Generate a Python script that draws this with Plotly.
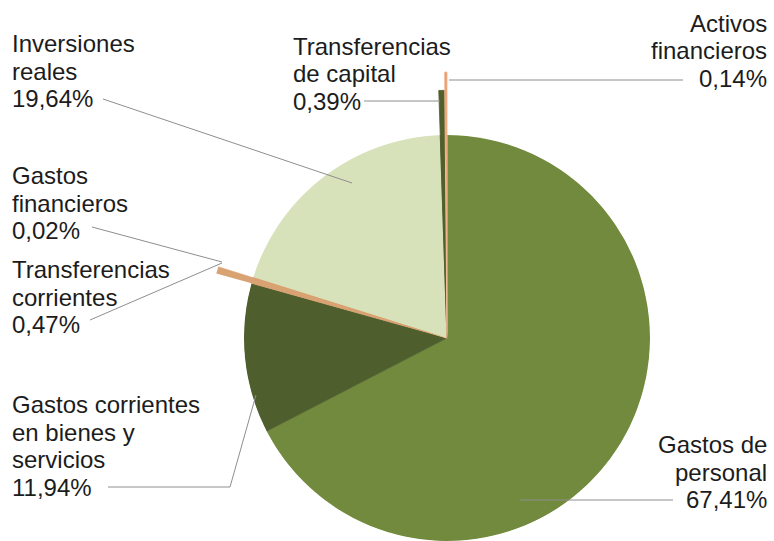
import math
import plotly.graph_objects as go

# ---------------- data ----------------
categories = [
    "Gastos de personal",
    "Gastos corrientes en bienes y servicios",
    "Transferencias corrientes",
    "Gastos financieros",
    "Inversiones reales",
    "Transferencias de capital",
    "Activos financieros",
]
values = [67.41, 11.94, 0.47, 0.02, 19.64, 0.39, 0.14]
label_lines = [
    ["Gastos de", "personal"],
    ["Gastos corrientes", "en bienes y", "servicios"],
    ["Transferencias", "corrientes"],
    ["Gastos", "financieros"],
    ["Inversiones", "reales"],
    ["Transferencias", "de capital"],
    ["Activos", "financieros"],
]

# ---------------- style ----------------
colors = ["#728A3D", "#4E5E2D", "#D9A272", "#E08D5C", "#D8E2BA", "#505F2C", "#E8925F"]
edge_colors = ["#728A3D", "#4E5E2D", "#E2AE84", "#E08D5C", "#D8E2BA", "#505F2C", "#F3BE9A"]
edge_widths = [0.6, 0.6, 0.0, 0.0, 0.6, 0.8, 1.0]
extension = [1.0, 1.0, 1.18, 1.18, 1.0, 1.22, 1.31]   # radial length of thin slices

W, H = 774, 541
CX, CY, R = 447, 338, 203
RMAX2 = 1.36
SECTOR = [80, 180]

# label positions in pixels: x, anchor, first baseline, leader polyline
label_style = [
    dict(x=768, anchor="right", base=453, leader=[(673, 500), (520, 500)]),
    dict(x=11, anchor="left", base=413, leader=[(108, 487), (230, 487), (256, 395)]),
    dict(x=11, anchor="left", base=278, leader=[(90, 320), (222, 263)]),
    dict(x=11, anchor="left", base=184, leader=[(92, 227), (222, 262)]),
    dict(x=11, anchor="left", base=52, leader=[(103, 99), (352, 183)]),
    dict(x=292, anchor="left", base=55, leader=[(364, 101), (440, 101)]),
    dict(x=768, anchor="right", base=32, leader=[(683, 80), (449, 80)]),
]
LINE_GAP = 27.5
FONT = dict(family="Liberation Sans, Arial, sans-serif", size=24, color="#1c1c1c")


def px(x):
    return x / W


def py(y):
    return 1 - y / H


# ---------------- angles ----------------
total = sum(values)
widths = [v / total * 360 for v in values]
centers = []
acc = 0
for w in widths:
    centers.append(acc + w / 2)
    acc += w

fig = go.Figure()

# main pie
fig.add_trace(go.Barpolar(
    r=[1] * len(values), theta=centers, width=widths,
    marker=dict(color=colors, line=dict(color=colors, width=0.6)),
    subplot="polar", hoverinfo="text", text=categories, showlegend=False,
))

# extended thin slices
thin = [i for i, e in enumerate(extension) if e > 1]
fig.add_trace(go.Barpolar(
    r=[extension[i] for i in thin], theta=[centers[i] for i in thin],
    width=[widths[i] for i in thin],
    marker=dict(color=[colors[i] for i in thin],
                line=dict(color=[edge_colors[i] for i in thin],
                          width=[edge_widths[i] for i in thin])),
    subplot="polar2", hoverinfo="text", text=[categories[i] for i in thin], showlegend=False,
))

ang = dict(visible=False, rotation=90, direction="clockwise", showgrid=False, showline=False,
           showticklabels=False, ticks="")

# polar 1 domain: full circle
p1x = [px(CX - R), px(CX + R)]
p1y = [max(0, py(CY + R)), py(CY - R)]
# polar 2 domain: sector bbox
R2 = R * RMAX2
c80 = math.cos(math.radians(SECTOR[0]))
p2x = [px(CX - R2), px(CX + R2 * c80)]
p2y = [py(CY), py(CY - R2)]

fig.update_layout(
    width=W, height=H,
    margin=dict(l=0, r=0, t=0, b=0),
    paper_bgcolor="white", plot_bgcolor="white",
    polar=dict(domain=dict(x=p1x, y=p1y), bgcolor="rgba(0,0,0,0)", bargap=0,
               radialaxis=dict(visible=False, range=[0, 1], showgrid=False),
               angularaxis=ang),
    polar2=dict(domain=dict(x=p2x, y=p2y), bgcolor="rgba(0,0,0,0)", bargap=0, sector=SECTOR,
                radialaxis=dict(visible=False, range=[0, RMAX2], showgrid=False),
                angularaxis=ang),
)

# labels and leaders
for i, st in enumerate(label_style):
    lines = label_lines[i] + [f"{values[i]:.2f}".replace(".", ",") + "%"]
    for k, txt in enumerate(lines):
        base = st["base"] + k * LINE_GAP
        fig.add_annotation(
            x=px(st["x"]), y=py(base - 8.5), xref="paper", yref="paper",
            text=txt, showarrow=False, xanchor=st["anchor"], yanchor="middle",
            font=FONT, borderpad=0,
        )
    pts = st["leader"]
    path = "M " + " L ".join(f"{px(x)} {py(y)}" for x, y in pts)
    fig.add_shape(type="path", path=path, xref="paper", yref="paper",
                  line=dict(color="#8E8E8E", width=1))

fig.write_html(
    "out.html",
    config={"displayModeBar": False},
    post_script="document.body.style.margin='0';document.body.style.overflow='hidden';",
)
